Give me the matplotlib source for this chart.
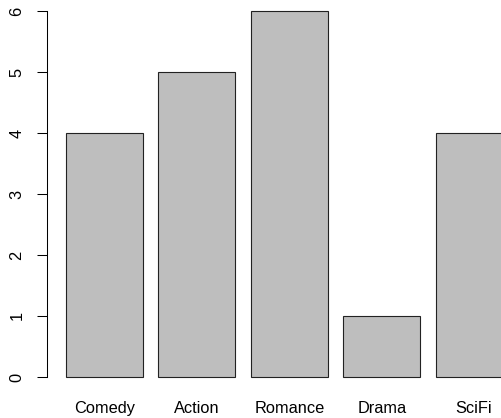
import matplotlib
matplotlib.use("Agg")
import matplotlib.pyplot as plt

genres = ["Comedy", "Action", "Romance", "Drama", "SciFi"]
counts = [4, 5, 6, 1, 4]
y_ticks = [0, 1, 2, 3, 4, 5, 6]

plt.rcParams["font.family"] = ["Liberation Sans", "DejaVu Sans"]

fig = plt.figure(figsize=(5.02, 4.18), dpi=100)
ax = fig.add_axes([0.0946, 0.0632, 0.994, 0.9455])

# bar layout like R's barplot: width 1, space 0.2
centers = [0.7 + 1.2 * i for i in range(len(genres))]
ax.bar(centers, counts, width=1.0, color="#bebebe", edgecolor="#222222", linewidth=0.8)

ax.set_xlim(-0.04, 6.44)
ax.set_ylim(-0.24, 6.24)

for side in ["top", "right", "bottom"]:
    ax.spines[side].set_visible(False)
ax.spines["left"].set_bounds(0, 6)
ax.spines["left"].set_linewidth(0.75)

ax.set_yticks(y_ticks)
ax.set_yticklabels([str(t) for t in y_ticks], rotation=90, va="center")
ax.tick_params(axis="y", length=7.2, width=0.75, pad=9.4, labelsize=11.8)

ax.set_xticks(centers)
ax.set_xticklabels(genres)
ax.tick_params(axis="x", length=0, pad=6.5, labelsize=11.8)

fig.savefig("out.png", dpi=100)
